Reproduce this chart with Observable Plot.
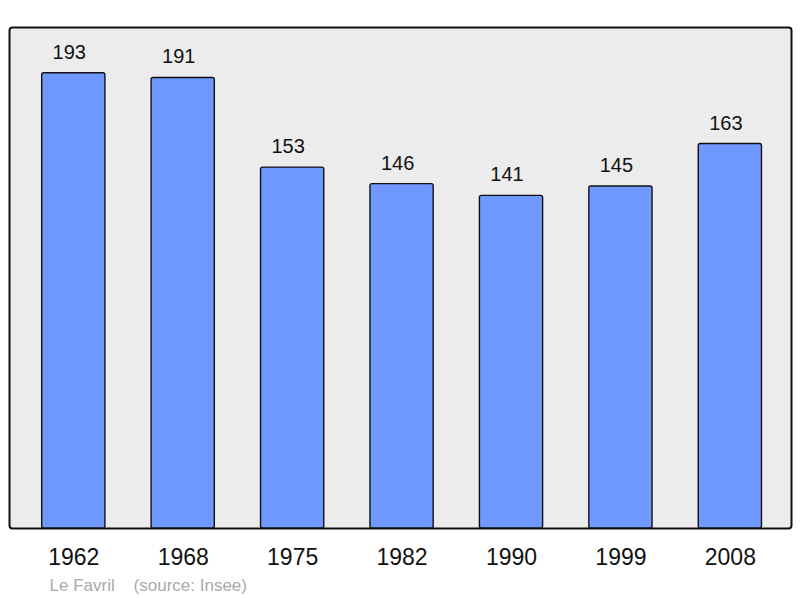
<!DOCTYPE html>
<html>
<head>
<meta charset="utf-8">
<script src="https://cdn.jsdelivr.net/npm/d3@7"></script>
<script src="https://cdn.jsdelivr.net/npm/@observablehq/plot@0.6"></script>
<style>
  html, body { margin: 0; padding: 0; background: #fff; }
  #chart svg { display: block; }
</style>
</head>
<body>
<div id="chart"></div>
<script>
const years = ["1962", "1968", "1975", "1982", "1990", "1999", "2008"];
const population = [193, 191, 153, 146, 141, 145, 163];
const captionText = "Le Favril\u00a0\u00a0\u00a0\u00a0(source: Insee)";

const data = years.map((y, i) => ({year: y, value: population[i]}));

const chart = Plot.plot({
  width: 800,
  height: 598,
  marginTop: 27,
  marginBottom: 70,
  marginLeft: 9,
  marginRight: 9,
  style: {fontFamily: "'Liberation Sans', Arial, sans-serif", background: "#fff"},
  x: {domain: years, range: [19.8, 783.35], round: false, paddingInner: 0.4225, paddingOuter: 0.2, label: null},
  y: {domain: [0, 212.4], axis: null},
  marks: [
    Plot.frame({fill: "#ececec", stroke: "#111", strokeWidth: 2, rx: 3}),
    Plot.barY(data, {x: "year", y: "value", fill: "#7099ff", stroke: "#111", strokeWidth: 1.4, rx: 2}),
    Plot.text(data, {x: "year", y: "value", text: d => String(d.value), lineAnchor: "bottom", dx: -4.5, dy: -14.5, fontSize: 20, fill: "#111"}),
    Plot.axisX({tickSize: 0, tickPadding: 20, fontSize: 23, color: "#111", label: null}),
    Plot.text([captionText], {frameAnchor: "bottom-left", text: d => d, textAnchor: "start", lineAnchor: "bottom", dx: 40, dy: 62.5, fontSize: 17, fill: "#aaaaaa"})
  ]
});
document.getElementById("chart").appendChild(chart);
</script>
</body>
</html>
